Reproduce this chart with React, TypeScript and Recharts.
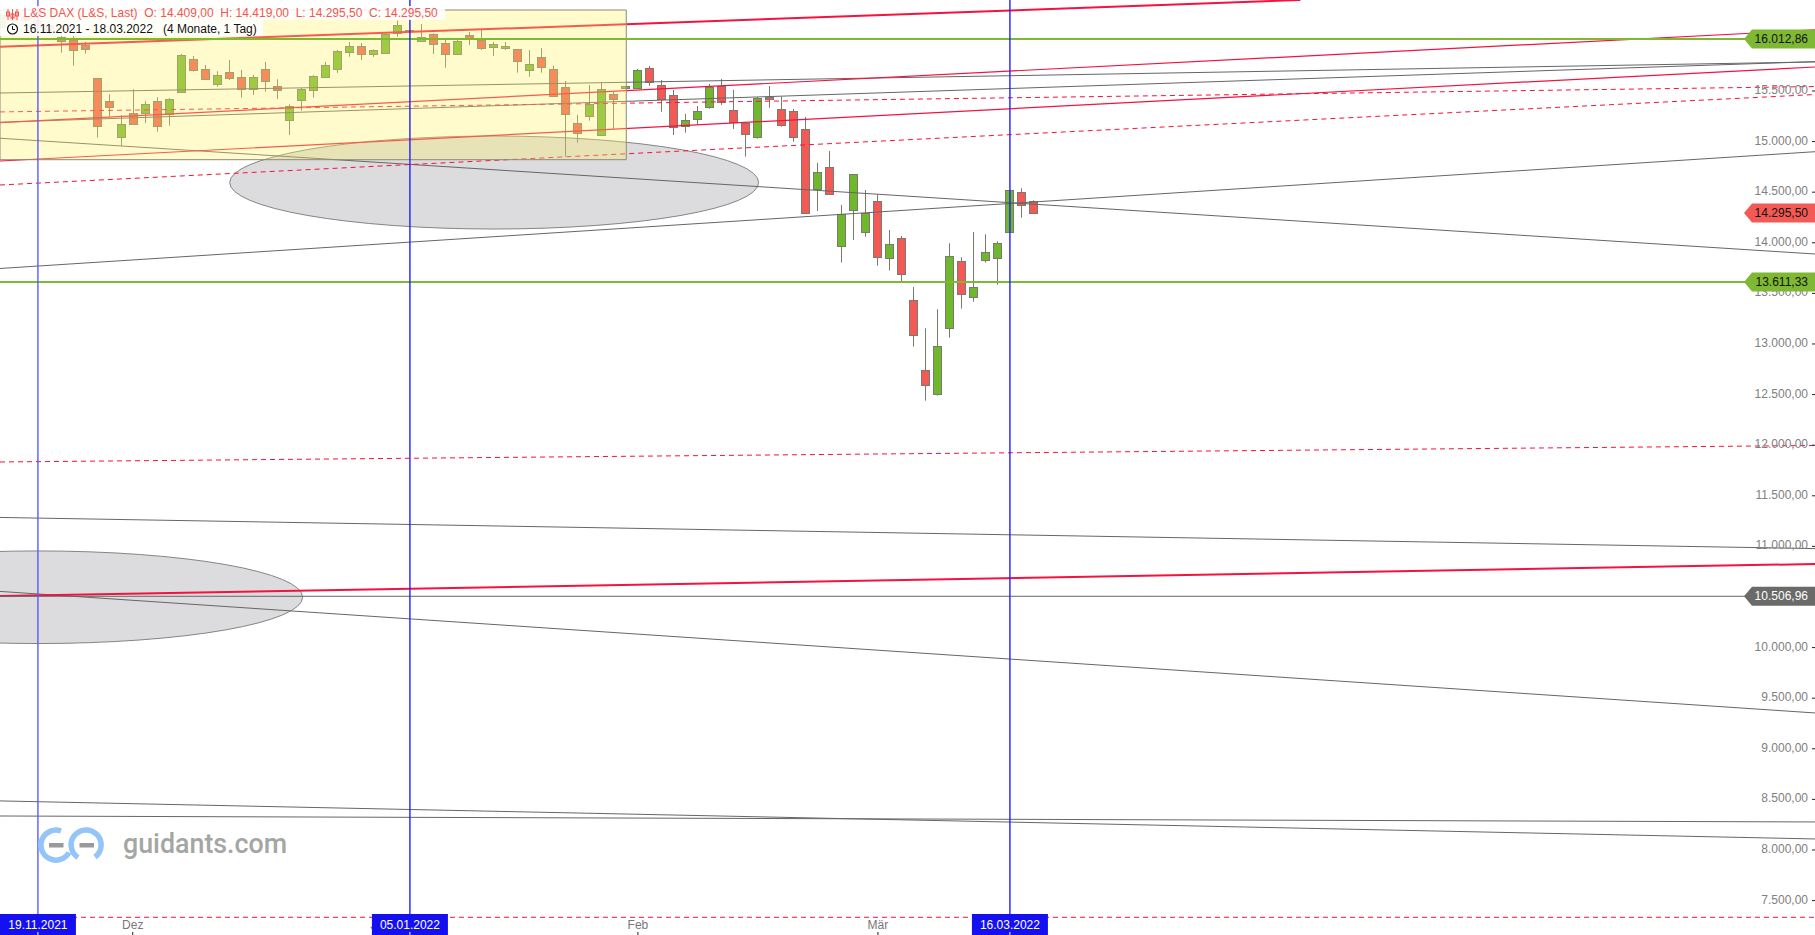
import React from "react";
import { ComposedChart, Bar, XAxis, YAxis, ReferenceLine, ReferenceArea } from "recharts";

const WIDTH = 1815;
const HEIGHT = 935;
const FONT = "'Liberation Sans', Arial, sans-serif";
const LOGO_FONT = "Roboto, sans-serif";

// open, high, low, close per trading day, index 0 = 16.11.2021
const opens = [16135,16240,16240,16200,16150,16036,16004,15954,15625,15401,15043,15280,15286,15398,15270,15487,15813,15714,15572,15685,15635,15517,15714,15546,15216,15408,15510,15641,15717,15885,15945,15866,15875,16073,16098,15997,16063,15974,15866,16053,16004,15935,15928,15915,15707,15836,15717,15542,15184,15253,15068,15470,15530,15533,15727,15559,15460,15154,15226,15345,15549,15312,15187,15048,15444,15322,15302,15125,14535,14749,13966,14327,14110,14410,13853,14045,13432,12740,12509,13155,13817,13462,13827,13853,14110,14499,14409];
const highs = [16271,16265,16260,16230,16180,16073,16043,15984,15625,15467,15263,15517,15401,15438,15428,15866,15846,15757,15695,15806,15707,15658,15787,15616,15369,15530,15655,15787,15905,15984,15974,15910,16070,16195,16098,16162,16070,16024,16004,16083,16113,15984,15984,15915,15905,15925,15750,15599,15263,15559,15582,15493,15549,15717,15747,15609,15510,15273,15352,15569,15619,15510,15187,15441,15549,15444,15322,15243,14789,14907,14374,14677,14522,14479,14127,14067,13563,13155,13343,13995,13857,14107,14084,14015,14519,14539,14419];
const lows = [16120,16160,16170,16100,16060,15878,15750,15869,15039,15246,14957,15167,15181,15098,15157,15487,15691,15609,15542,15609,15434,15460,15493,15421,15065,15305,15434,15638,15678,15839,15806,15836,15875,16036,16088,15994,15866,15730,15866,15954,15905,15846,15905,15681,15641,15681,15441,14851,14989,15207,15058,15125,15530,15533,15552,15295,15065,15088,15164,15325,15362,15125,14851,15029,15335,15147,14999,14298,14314,14482,13804,14028,14060,13774,13725,13616,12974,12440,12490,13063,13349,13418,13804,13586,14110,14248,14295.5];
const closes = [16251,16205,16200,16130,16090,15997,15905,15918,15151,15345,15171,15177,15369,15157,15418,15853,15707,15616,15655,15625,15517,15635,15596,15507,15349,15523,15648,15757,15895,15945,15866,15905,16063,16152,16088,16034,15964,15866,15994,16014,15925,15964,15945,15796,15767,15737,15451,15276,15085,15375,15520,15424,15549,15707,15589,15424,15147,15213,15302,15542,15391,15194,15078,15431,15418,15167,15045,14298,14700,14482,14282,14677,14295,13857,13985,13689,13086,12592,12978,13867,13491,13560,13906,13995,14519,14371,14295.5];

const candles = opens.map((open, i) => ({
  i, open, high: highs[i], low: lows[i], close: closes[i], range: [lows[i], highs[i]],
}));

const X_MIN = -0.16;
const X_MAX = 151.09;
const Y_MIN = 7160;
const Y_MAX = 16399;

const priceTicks = [7500,8000,8500,9000,9500,10000,11000,11500,12000,12500,13000,13500,14000,14500,15000,15500];
const monthIndex = [10.9, 31.5, 53, 73];
const monthNames = ["Dez", "Jan", "Feb", "Mär"];

// trend lines: [start index, start price, end index, end price]
const redThin = [[X_MIN,15187,X_MAX,16103],[X_MIN,14808,X_MAX,15737]];
const redThick = [[X_MIN,15938,108.2,16399],[X_MIN,10510,X_MAX,10826]];
const redDashed = [[X_MIN,15293,X_MAX,15544],[X_MIN,14571,X_MAX,15465],[X_MIN,11834,X_MAX,11997],[X_MIN,7335,X_MAX,7335]];
const greyLines = [[X_MIN,15480,X_MAX,15787],[X_MIN,15191,X_MAX,15790],[X_MIN,15033,X_MAX,13889],[X_MIN,13746,X_MAX,14900],[X_MIN,11286,X_MAX,10978],[X_MIN,10555,X_MAX,9354],[X_MIN,8485,X_MAX,8109],[X_MIN,8336,X_MAX,8277]];

const greenLevels = [16012.86, 13611.33];
const greyLevel = 10506.96;
const lastPrice = 14295.5;
const dateIndex = [3, 34, 84];
const dateNames = ["19.11.2021", "05.01.2022", "16.03.2022"];
const dateStrokes = ["#5a5aff", "#2020ff", "#2020ff"];

// [x1, x2, y1, y2] in index / price
const ellipses = [[18.98,63.06,14136,15055],[-19.03,25.06,10040,10955]];
const yellowBox = [X_MIN,52.03,14821,16300];

const RED = "#f4123e";
const GREY = "#666666";
const GREEN = "#7fb833";
const TAG_RED = "#f45a55";
const TAG_GREY = "#6a6a68";

const fmt = (v: number) =>
  v.toLocaleString("de-DE", { minimumFractionDigits: 2, maximumFractionDigits: 2 });

function Candle(props: any) {
  const { x, y, width, height, payload } = props;
  const k = height / (payload.high - payload.low);
  const top = Math.round(y + (payload.high - Math.max(payload.open, payload.close)) * k) + 0.5;
  const bot = Math.round(y + (payload.high - Math.min(payload.open, payload.close)) * k) + 0.5;
  const cx = Math.round(x + width / 2) + 0.5;
  const up = payload.close >= payload.open;
  return (
    <g>
      <line x1={cx} x2={cx} y1={y} y2={y + height} stroke="#7a7a6a" strokeWidth={1} />
      <rect x={cx - 4} y={top} width={8} height={Math.max(bot - top, 1)} fill={up ? "#6fb82c" : "#f45a55"} stroke="#7a7a72" strokeWidth={1} />
    </g>
  );
}

function PriceTick(props: any) {
  const { y, payload } = props;
  const v = payload.value;
  const isGreen = greenLevels.includes(v);
  if (isGreen || v === lastPrice || v === greyLevel) {
    const fill = isGreen ? GREEN : v === lastPrice ? TAG_RED : TAG_GREY;
    const color = v === greyLevel ? "#fff" : "#111";
    const pts = `1744,${y} 1752,${y - 9.5} 1815,${y - 9.5} 1815,${y + 9.5} 1752,${y + 9.5}`;
    return (
      <g>
        <polygon points={pts} fill={fill} />
        <text x={1808} y={y} textAnchor="end" dominantBaseline="central" fontFamily={FONT} fontSize={12} fill={color}>{fmt(v)}</text>
      </g>
    );
  }
  return (
    <g>
      <text x={1808} y={y - 1} textAnchor="end" dominantBaseline="central" fontFamily={FONT} fontSize={12} fill="#808080">{fmt(v)}</text>
      <line x1={1812} x2={1815} y1={y} y2={y} stroke="#222" />
    </g>
  );
}

function TimeTick(props: any) {
  const { x, payload } = props;
  const d = dateIndex.indexOf(payload.value);
  if (d >= 0) {
    return (
      <g>
        <rect x={x - 38} y={914} width={76} height={21} fill="#1410f0" />
        <text x={x} y={925} textAnchor="middle" dominantBaseline="central" fontFamily={FONT} fontSize={12} fill="#fff">{dateNames[d]}</text>
        <line x1={x} x2={x} y1={932} y2={935} stroke="#fff" />
      </g>
    );
  }
  return (
    <g>
      <text x={x} y={925} textAnchor="middle" dominantBaseline="central" fontFamily={FONT} fontSize={12} fill="#777">{monthNames[monthIndex.indexOf(payload.value)]}</text>
      <line x1={x} x2={x} y1={932} y2={935} stroke="#222" />
    </g>
  );
}

const EllipseShape = (props: any) => {
  const { x, y, width, height } = props;
  return (
    <ellipse cx={x + width / 2} cy={y + height / 2} rx={width / 2} ry={height / 2} fill="rgba(185,185,192,0.5)" stroke="#858585" strokeWidth={1} />
  );
};

const seg = (l: number[]) => [{ x: l[0], y: l[1] }, { x: l[2], y: l[3] }] as any;

const FRONT = { isFront: true, zIndex: 950 } as any;

function Overlay() {
  return (
    <>
      <div style={{ position: "absolute", left: 0, top: 6, width: 445, height: 14, background: "rgba(255,255,255,0.88)" }} />
      <div style={{ position: "absolute", left: 0, top: 20, width: 263, height: 16, background: "rgba(255,255,255,0.88)" }} />
      <div style={{ position: "absolute", left: 23.5, top: 5, font: `12px ${FONT}`, color: "#f25555", whiteSpace: "pre", lineHeight: "16px" }}>
        {"L&S DAX (L&S, Last)  O: 14.409,00  H: 14.419,00  L: 14.295,50  C: 14.295,50"}
      </div>
      <div style={{ position: "absolute", left: 23, top: 21, font: `12px ${FONT}`, color: "#111", whiteSpace: "pre", lineHeight: "16px" }}>
        {"16.11.2021 - 18.03.2022   (4 Monate, 1 Tag)"}
      </div>
      <svg width={WIDTH} height={HEIGHT} style={{ position: "absolute", left: 0, top: 0, pointerEvents: "none" }}>
        <g stroke="#f25555" strokeWidth={1} fill="none">
          <line x1={8} x2={8} y1={9} y2={20} /><rect x={6.5} y={12} width={3} height={4} />
          <line x1={12.5} x2={12.5} y1={9} y2={20} /><rect x={11} y={14} width={3} height={4} />
          <line x1={17} x2={17} y1={9} y2={20} /><rect x={15.5} y={12} width={3} height={4} />
        </g>
        <circle cx={12.5} cy={29} r={5} fill="none" stroke="#111" strokeWidth={1.2} />
        <path d="M12.5 26 V29.5 H15" fill="none" stroke="#111" strokeWidth={1} />
        <g fill="none" stroke="#93c5fa" strokeWidth={5.5}>
          <path d="M61 831 A15 15 0 1 0 69 852.5" />
          <path d="M78 857.5 A15 15 0 1 1 95 857" />
        </g>
        <rect x={49} y={843} width={14.5} height={4.5} fill="#9a9a9a" />
        <rect x={79.5} y={843} width={14.5} height={4.5} fill="#9a9a9a" />
        <text x={123} y={853} fontFamily={LOGO_FONT} fontWeight={500} fontSize={26.8} fill="#a3a6a3">guidants.com</text>
      </svg>
    </>
  );
}

export default function App() {
  return (
    <div style={{ position: "absolute", left: 0, top: 0, width: WIDTH, height: HEIGHT, background: "#fff", overflow: "hidden" }}>
      <ComposedChart width={WIDTH} height={HEIGHT} data={candles} margin={{ top: 0, right: 0, bottom: 0, left: 0 }}>
        <XAxis dataKey="i" type="number" domain={[X_MIN, X_MAX]} allowDataOverflow ticks={[...monthIndex, ...dateIndex]} interval={0} mirror height={1} axisLine={false} tickLine={false} tick={<TimeTick />} />
        <YAxis type="number" orientation="right" domain={[Y_MIN, Y_MAX]} allowDataOverflow ticks={[...priceTicks, ...greenLevels, lastPrice, greyLevel]} interval={0} mirror width={1} axisLine={false} tickLine={false} tick={<PriceTick />} />
        {ellipses.map((e, k) => (
          <ReferenceArea key={k} x1={e[0]} x2={e[1]} y1={e[2]} y2={e[3]} ifOverflow="hidden" shape={<EllipseShape />} />
        ))}
        <Bar dataKey="range" barSize={9} isAnimationActive={false} shape={<Candle />} />
        {greyLines.map((l, k) => (
          <ReferenceLine key={k} segment={seg(l)} stroke={GREY} strokeWidth={1} ifOverflow="visible" />
        ))}
        {redThin.map((l, k) => (
          <ReferenceLine key={k} segment={seg(l)} stroke={RED} strokeWidth={1.2} ifOverflow="visible" />
        ))}
        {redThick.map((l, k) => (
          <ReferenceLine key={k} segment={seg(l)} stroke={RED} strokeWidth={2} ifOverflow="visible" />
        ))}
        {redDashed.map((l, k) => (
          <ReferenceLine key={k} segment={seg(l)} stroke={RED} strokeWidth={1} strokeDasharray="5 4" ifOverflow="visible" />
        ))}
        <ReferenceArea {...FRONT} x1={yellowBox[0]} x2={yellowBox[1]} y1={yellowBox[2]} y2={yellowBox[3]} fill="#fff266" fillOpacity={0.33} stroke="#8a8a78" strokeOpacity={1} ifOverflow="hidden" />
        <ReferenceLine {...FRONT} y={greyLevel} stroke={GREY} strokeWidth={1} />
        {greenLevels.map((v) => (
          <ReferenceLine {...FRONT} key={v} y={v} stroke={GREEN} strokeWidth={2} />
        ))}
        {dateIndex.map((d, k) => (
          <ReferenceLine {...FRONT} key={d} x={d} stroke={dateStrokes[k]} strokeWidth={1.4} />
        ))}
      </ComposedChart>
      <Overlay />
    </div>
  );
}
